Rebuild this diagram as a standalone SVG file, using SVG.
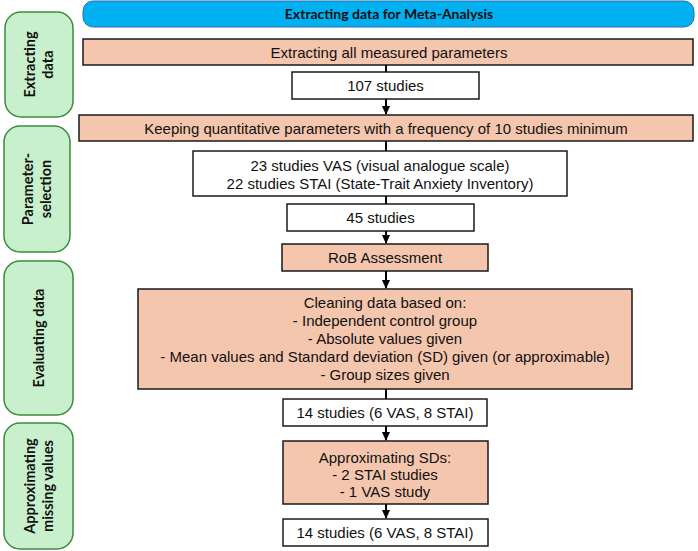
<svg xmlns="http://www.w3.org/2000/svg" width="698" height="551" viewBox="0 0 698 551">
<defs>
<marker id="ah" markerWidth="10" markerHeight="10" refX="8" refY="5" orient="auto" markerUnits="userSpaceOnUse">
<path d="M0,1 L9,5 L0,9 Z" fill="#000"/>
</marker>
<style>
.step{fill:#F4C6AD;stroke:#1a1a1a;stroke-width:1.5}
.res{fill:#fff;stroke:#1a1a1a;stroke-width:1.5}
.phase{fill:#C8F0CC;stroke:#3d8a3d;stroke-width:1.5}
.t{font-family:"Liberation Sans",Arial,sans-serif;font-size:15px;fill:#111;text-anchor:middle}
.pl{font-family:Lato,"Open Sans",sans-serif;font-weight:bold;font-size:14.5px;fill:#111;text-anchor:middle}
.conn{stroke:#000;stroke-width:2;fill:none}
</style>
</defs>
<g id="header">
<rect x="83" y="1" width="611" height="26" rx="10" fill="#00B0F0" stroke="#2d6fae" stroke-width="1"/>
<text x="389" y="19" style="font-family:Lato,'Open Sans',sans-serif;font-weight:bold;font-size:14px;fill:#111;text-anchor:middle">Extracting data for Meta-Analysis</text>
</g>
<g id="phase-extracting">
<rect class="phase" x="5" y="12" width="68" height="105" rx="16"/>
<text class="pl" transform="translate(39,64.5) rotate(-90)"><tspan x="0" y="-4">Extracting</tspan><tspan x="0" y="14">data</tspan></text>
</g>
<g id="phase-selection">
<rect class="phase" x="4" y="126" width="66" height="126" rx="16"/>
<text class="pl" transform="translate(37,189) rotate(-90)"><tspan x="0" y="-4">Parameter-</tspan><tspan x="0" y="14">selection</tspan></text>
</g>
<g id="phase-evaluating">
<rect class="phase" x="4" y="261" width="69" height="154" rx="16"/>
<text class="pl" transform="translate(39,338) rotate(-90)"><tspan x="0" y="5">Evaluating data</tspan></text>
</g>
<g id="phase-approximating">
<rect class="phase" x="4" y="423" width="69" height="126" rx="16"/>
<text class="pl" transform="translate(39,486) rotate(-90)"><tspan x="0" y="-4">Approximating</tspan><tspan x="0" y="14">missing values</tspan></text>
</g>
<g id="extract-all">
<rect class="step" x="83" y="39" width="610" height="26"/>
<text class="t" x="389" y="57.5">Extracting all measured parameters</text>
</g>
<g id="n107">
<rect class="res" x="292" y="72" width="187" height="27"/>
<text class="t" x="385.5" y="91">107 studies</text>
</g>
<g id="keeping">
<rect class="step" x="79" y="115" width="614" height="26"/>
<text class="t" x="386" y="133.5">Keeping quantitative parameters with a frequency of 10 studies minimum</text>
</g>
<g id="vas-stai">
<rect class="res" x="193" y="151" width="374" height="45"/>
<text class="t" x="380" y="170.5">23 studies VAS (visual analogue scale)</text>
<text class="t" x="380" y="188.5">22 studies STAI (State-Trait Anxiety Inventory)</text>
</g>
<g id="n45">
<rect class="res" x="287" y="204" width="187" height="27"/>
<text class="t" x="380.5" y="223">45 studies</text>
</g>
<g id="rob">
<rect class="step" x="282" y="244" width="206" height="27"/>
<text class="t" x="385" y="263">RoB Assessment</text>
</g>
<g id="cleaning">
<rect class="step" x="138" y="289" width="494" height="100"/>
<text class="t" x="385" y="307.5">Cleaning data based on:</text>
<text class="t" x="385" y="325.5">- Independent control group</text>
<text class="t" x="385" y="343.5">- Absolute values given</text>
<text class="t" x="385" y="361.5">- Mean values and Standard deviation (SD) given (or approximable)</text>
<text class="t" x="385" y="380">- Group sizes given</text>
</g>
<g id="n14a">
<rect class="res" x="283" y="399" width="204" height="27"/>
<text class="t" x="385" y="418">14 studies (6 VAS, 8 STAI)</text>
</g>
<g id="approx">
<rect class="step" x="283" y="441" width="205" height="63"/>
<text class="t" x="385" y="462.5">Approximating SDs:</text>
<text class="t" x="385" y="479.5">- 2 STAI studies</text>
<text class="t" x="385" y="496.5">- 1 VAS study</text>
</g>
<g id="n14b">
<rect class="res" x="283" y="519" width="205" height="27"/>
<text class="t" x="385" y="538">14 studies (6 VAS, 8 STAI)</text>
</g>
<g id="connectors">
<line class="conn" x1="386" y1="65" x2="386" y2="72"/>
<line class="conn" x1="386" y1="99" x2="386" y2="114" marker-end="url(#ah)"/>
<line class="conn" x1="386" y1="141" x2="386" y2="151"/>
<line class="conn" x1="386" y1="196" x2="386" y2="204"/>
<line class="conn" x1="386" y1="231" x2="386" y2="243" marker-end="url(#ah)"/>
<line class="conn" x1="386" y1="271" x2="386" y2="288" marker-end="url(#ah)"/>
<line class="conn" x1="386" y1="389" x2="386" y2="399"/>
<line class="conn" x1="386" y1="426" x2="386" y2="440" marker-end="url(#ah)"/>
<line class="conn" x1="386" y1="504" x2="386" y2="518" marker-end="url(#ah)"/>
</g>
</svg>
